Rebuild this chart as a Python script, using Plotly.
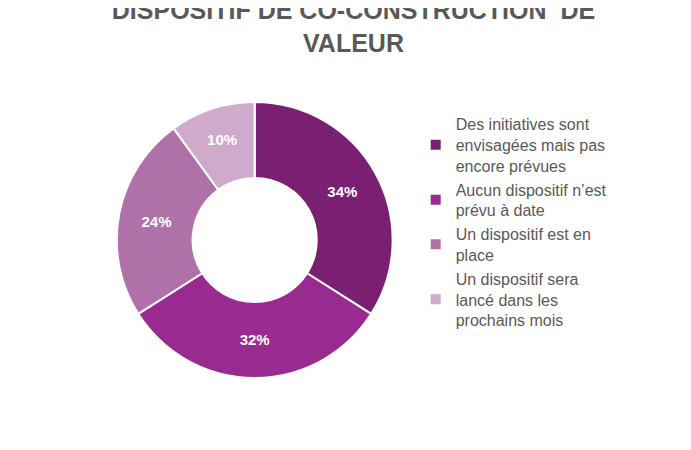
import plotly.graph_objects as go

labels = [
    "Des initiatives sont<br>envisagées mais pas<br>encore prévues",
    "Aucun dispositif n’est<br>prévu à date",
    "Un dispositif est en<br>place",
    "Un dispositif sera<br>lancé dans les<br>prochains mois",
]
values = [34, 32, 24, 10]
colors = ["#7B1F72", "#992A90", "#B070A8", "#CFAACB"]

fig = go.Figure(go.Pie(
    labels=labels,
    values=values,
    hole=0.45,
    sort=False,
    direction="clockwise",
    rotation=0,
    marker=dict(colors=colors, line=dict(color="white", width=2)),
    textinfo="percent",
    texttemplate="<b>%{percent:.0%}</b>",
    textfont=dict(color="white", size=15, family="Liberation Sans"),
    insidetextorientation="horizontal",
    domain=dict(x=[0.157, 0.557], y=[0.178, 0.791]),
))

fig.update_layout(
    width=691, height=450,
    margin=dict(l=0, r=0, t=0, b=0),
    paper_bgcolor="white",
    font=dict(family="Liberation Sans", color="#595959"),
    title=dict(
        text="<b>DISPOSITIF DE CO-CONSTRUCTION  DE<br>VALEUR</b>",
        x=0.5, xanchor="center", y=0.975, yanchor="top",
        font=dict(size=25, color="#595959"),
    ),
    legend=dict(
        x=0.59, y=0.78, xanchor="left", yanchor="top",
        font=dict(size=16, color="#595959"),
        tracegroupgap=12,
        itemsizing="constant",
    ),
)

fig.write_html("out.html")
